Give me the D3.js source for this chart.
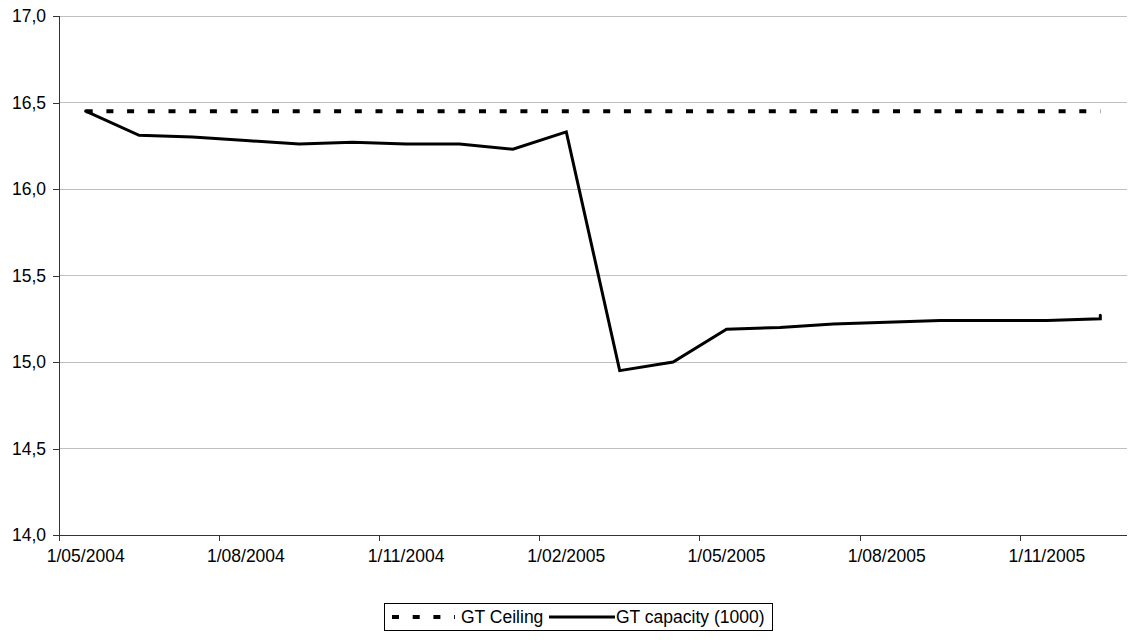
<!DOCTYPE html>
<html><head><meta charset="utf-8">
<script src="https://cdn.jsdelivr.net/npm/d3@7"></script>
<style>
body{margin:0;background:#fff;}
svg{display:block;font-family:"Liberation Sans",Arial,sans-serif;}
</style></head>
<body><svg id="c" width="1133" height="640"></svg>
<script>
// Months on the category (month-based date) axis
const months = ["2004-05","2004-06","2004-07","2004-08","2004-09","2004-10","2004-11","2004-12",
  "2005-01","2005-02","2005-03","2005-04","2005-05","2005-06","2005-07","2005-08","2005-09","2005-10","2005-11","2005-12"];
// Data dates (two observations fall in Dec 2005)
const dataMonths = ["2004-05","2004-06","2004-07","2004-08","2004-09","2004-10","2004-11","2004-12",
  "2005-01","2005-02","2005-03","2005-04","2005-05","2005-06","2005-07","2005-08","2005-09","2005-10","2005-11","2005-12","2005-12"];
const capacity = [16.45,16.31,16.30,16.28,16.26,16.27,16.26,16.26,16.23,16.33,14.95,15.00,15.19,15.20,15.22,15.23,15.24,15.24,15.24,15.25,15.27];
const ceiling  = [16.45,16.45,16.45,16.45,16.45,16.45,16.45,16.45,16.45,16.45,16.45,16.45,16.45,16.45,16.45,16.45,16.45,16.45,16.45,16.45,16.45];
const tickMonths = ["2004-05","2004-08","2004-11","2005-02","2005-05","2005-08","2005-11"];
const tickLabels = ["1/05/2004","1/08/2004","1/11/2004","1/02/2005","1/05/2005","1/08/2005","1/11/2005"];
const yTicks = [14.0,14.5,15.0,15.5,16.0,16.5,17.0];
const seriesNames = ["GT Ceiling","GT capacity (1000)"];

const svg = d3.select("#c");
const L=59, R=1127, T=16, B=535;
const x = d3.scaleBand().domain(months).range([L,R]).padding(0);
const y = d3.scaleLinear().domain([14,17]).range([B,T]);
const fmt = v => v.toFixed(1).replace(".", ",");
const FS = 17.5;

// gridlines
svg.append("g").selectAll("line").data(yTicks.filter(v=>v>14)).join("line")
  .attr("x1",L).attr("x2",R).attr("y1",d=>y(d)).attr("y2",d=>y(d))
  .attr("stroke","#c0c0c0").attr("stroke-width",1).attr("shape-rendering","crispEdges");

// y axis
const ya = svg.append("g").attr("transform",`translate(${L},0)`)
  .call(d3.axisLeft(y).tickValues(yTicks).tickFormat(fmt).tickSize(6).tickPadding(7));
ya.select(".domain").attr("stroke","#333").attr("shape-rendering","crispEdges");
ya.selectAll(".tick line").attr("stroke","#333").attr("shape-rendering","crispEdges");
ya.selectAll("text").attr("font-size",FS).attr("fill","#000").attr("font-family","Liberation Sans, Arial, sans-serif");

// x axis
const xa = svg.append("g").attr("transform",`translate(0,${B})`);
xa.append("line").attr("x1",L).attr("x2",R).attr("y1",0).attr("y2",0)
  .attr("stroke","#333").attr("shape-rendering","crispEdges");
xa.selectAll("line.tk").data(tickMonths).join("line").attr("class","tk")
  .attr("x1",d=>x(d)).attr("x2",d=>x(d)).attr("y1",0).attr("y2",6)
  .attr("stroke","#333").attr("shape-rendering","crispEdges");
xa.selectAll("text").data(tickMonths).join("text")
  .attr("x",d=>x(d)+x.bandwidth()/2).attr("y",27)
  .attr("text-anchor","middle").attr("font-size",FS).attr("fill","#000")
  .text((d,i)=>tickLabels[i]);

const cx = m => x(m)+x.bandwidth()/2;
const line = d3.line().x((d,i)=>cx(dataMonths[i])).y(d=>y(d));

svg.append("path").datum(ceiling.slice(0,ceiling.length-1)).attr("d",line)
  .attr("fill","none").attr("stroke","#000").attr("stroke-width",4)
  .attr("stroke-dasharray","7,13.7");
svg.append("path").datum(capacity).attr("d",line)
  .attr("fill","none").attr("stroke","#000").attr("stroke-width",3)
  .attr("stroke-linejoin","miter").attr("stroke-linecap","round");

// legend
const lg = svg.append("g");
lg.append("rect").attr("x",384.5).attr("y",603.5).attr("width",388).attr("height",27)
  .attr("fill","#fff").attr("stroke","#000").attr("stroke-width",1);
lg.append("line").attr("x1",392).attr("x2",455).attr("y1",617).attr("y2",617)
  .attr("stroke","#000").attr("stroke-width",4).attr("stroke-dasharray","7,13.7");
lg.append("text").attr("x",461).attr("y",623).attr("font-size",FS).text(seriesNames[0]);
lg.append("line").attr("x1",549).attr("x2",615).attr("y1",617).attr("y2",617)
  .attr("stroke","#000").attr("stroke-width",3);
lg.append("text").attr("x",616).attr("y",623).attr("font-size",FS).text(seriesNames[1]);
</script></body></html>
